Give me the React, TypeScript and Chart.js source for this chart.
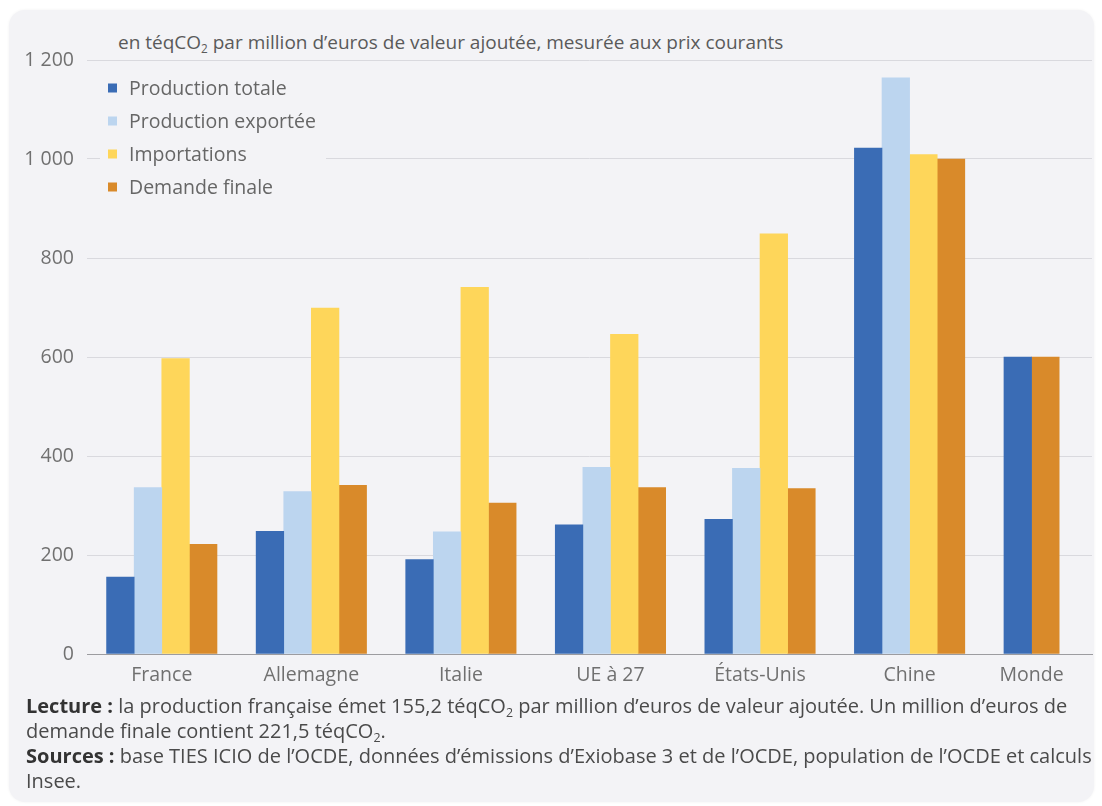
import React, { useEffect, useRef } from "react";
import { Chart, registerables } from "chart.js";

Chart.register(...registerables);

// ---- Data -----------------------------------------------------------------
const categories = ["France", "Allemagne", "Italie", "UE à 27", "États-Unis", "Chine", "Monde"];

const productionTotale: (number | null)[] = [155.2, 248, 191, 261, 272, 1022, 600];
const productionExportee: (number | null)[] = [336, 328, 247, 377, 375, 1164, null];
const importations: (number | null)[] = [597, 699, 741, 646, 849, 1009, null];
const demandeFinale: (number | null)[] = [221.5, 341, 305, 336, 334, 1000, 600];

const yTicks = [0, 200, 400, 600, 800, 1000, 1200];

const seriesLabels = ["Production totale", "Production exportée", "Importations", "Demande finale"];
const seriesColors = ["#3a6cb5", "#bcd5ef", "#fed65a", "#d98a2a"];

// ---- Layout / style --------------------------------------------------------
const CARD_BG = "#f3f3f6";
const FONT = '"Open Sans", "Noto Sans", sans-serif';
const BAR_PX = 27.6; // width of one bar
const GAP_SLOTS = 1.42; // empty space between groups, in bar widths
const TRAIL_SLOTS = 0.48; // space after the last group

const allSeries = [productionTotale, productionExportee, importations, demandeFinale];

// Each category is as wide as its bars plus a constant gap, so a group
// with fewer bars takes less room on the axis.
const barCounts = categories.map((_, i) => allSeries.filter((s) => s[i] !== null).length);
const centers: number[] = [];
let acc = 0;
barCounts.forEach((n) => {
  const w = n + GAP_SLOTS;
  centers.push(acc + w / 2);
  acc += w;
});
const xMax = acc + TRAIL_SLOTS;

const fmt = (v: number) => {
  const s = String(Math.round(v));
  return s.length > 3 ? s.slice(0, s.length - 3) + " " + s.slice(-3) : s;
};

const legendPlugin = {
  id: "boxLegend",
  afterDatasetsDraw(chart: any) {
    const { ctx, chartArea } = chart;
    const x0 = chartArea.left + 13;
    const y0 = chartArea.top + 8;
    ctx.save();
    ctx.fillStyle = CARD_BG;
    ctx.fillRect(x0, y0, 226, 136);
    ctx.font = `19.5px ${FONT}`;
    ctx.textBaseline = "middle";
    seriesLabels.forEach((label, i) => {
      const y = chartArea.top + 28 + i * 33;
      ctx.fillStyle = seriesColors[i];
      ctx.fillRect(chartArea.left + 21, y - 4.5, 9, 9);
      ctx.fillStyle = "#666";
      ctx.fillText(label, chartArea.left + 42, y + 1);
    });
    ctx.restore();
  },
};

function BarChart() {
  const ref = useRef<HTMLCanvasElement | null>(null);

  useEffect(() => {
    if (!ref.current) return;
    const chart = new Chart(ref.current, {
      type: "bar",
      data: {
        datasets: allSeries.map((values, k) => ({
          label: seriesLabels[k],
          data: values.map((v, i) => ({ x: centers[i], y: v })),
          backgroundColor: seriesColors[k],
          borderWidth: 0,
          barThickness: BAR_PX,
          skipNull: true,
        })) as any,
      },
      options: {
        responsive: false,
        animation: false,
        devicePixelRatio: 1,
        layout: { padding: { top: 60, right: 10, left: 0, bottom: 0 } },
        plugins: {
          legend: { display: false },
          tooltip: { enabled: false },
        },
        scales: {
          x: {
            type: "linear",
            offset: false,
            min: 0,
            max: xMax,
            afterBuildTicks: (scale: any) => {
              scale.ticks = centers.map((v) => ({ value: v }));
            },
            afterFit: (scale: any) => {
              scale.height = 40;
            },
            ticks: {
              autoSkip: false,
              maxRotation: 0,
              minRotation: 0,
              padding: 10,
              color: "#707070",
              font: { family: FONT, size: 19.5 },
              callback: (_v: any, i: number) => categories[i],
            },
            grid: { display: false, drawTicks: false, offset: false },
            border: { display: true, color: "#9c9ca0", width: 1 },
          },
          y: {
            min: 0,
            max: 1200,
            afterBuildTicks: (scale: any) => {
              scale.ticks = yTicks.map((v) => ({ value: v }));
            },
            afterFit: (scale: any) => {
              scale.width = 87;
            },
            ticks: {
              padding: 13,
              color: "#707070",
              font: { family: FONT, size: 19.5 },
              callback: (v: any) => fmt(Number(v)),
            },
            grid: { color: "#d9d9de", lineWidth: 1, drawTicks: false },
            border: { display: false },
          },
        },
      },
      plugins: [legendPlugin],
    } as any);
    return () => chart.destroy();
  }, []);

  return (
    <canvas
      ref={ref}
      width={1102}
      height={694}
      style={{ position: "absolute", left: 0, top: 0, width: 1102, height: 694 }}
    />
  );
}

export default function App() {
  const sub = { fontSize: "0.62em", verticalAlign: "-0.3em", lineHeight: 0 } as const;
  return (
    <div
      style={{
        position: "absolute",
        left: 0,
        top: 0,
        width: 1102,
        height: 806,
        background: "#ffffff",
        fontFamily: FONT,
        overflow: "hidden",
      }}
    >
      <div
        style={{
          position: "absolute",
          left: 9,
          top: 10,
          width: 1085,
          height: 792,
          borderRadius: 16,
          background: CARD_BG,
          boxShadow: "0 0 3px rgba(0,0,0,0.06)",
        }}
      />
      <div
        style={{
          position: "absolute",
          left: 118,
          top: 30,
          fontSize: 19,
          lineHeight: "24px",
          color: "#5a5a5a",
          whiteSpace: "nowrap",
        }}
      >
        en téqCO<span style={sub}>2</span> par million d’euros de valeur ajoutée, mesurée aux prix courants
      </div>
      <BarChart />
      <div
        style={{
          position: "absolute",
          left: 26,
          top: 693,
          fontSize: 20,
          lineHeight: "25px",
          color: "#4a4a4a",
          whiteSpace: "nowrap",
        }}
      >
        <b style={{ color: "#333" }}>Lecture :</b> la production française émet 155,2 téqCO<span style={sub}>2</span> par
        million d’euros de valeur ajoutée. Un million d’euros de
        <br />
        demande finale contient 221,5 téqCO<span style={sub}>2</span>.
        <br />
        <b style={{ color: "#333" }}>Sources :</b> base TIES ICIO de l’OCDE, données d’émissions d’Exiobase 3 et de
        l’OCDE, population de l’OCDE et calculs
        <br />
        Insee.
      </div>
    </div>
  );
}
